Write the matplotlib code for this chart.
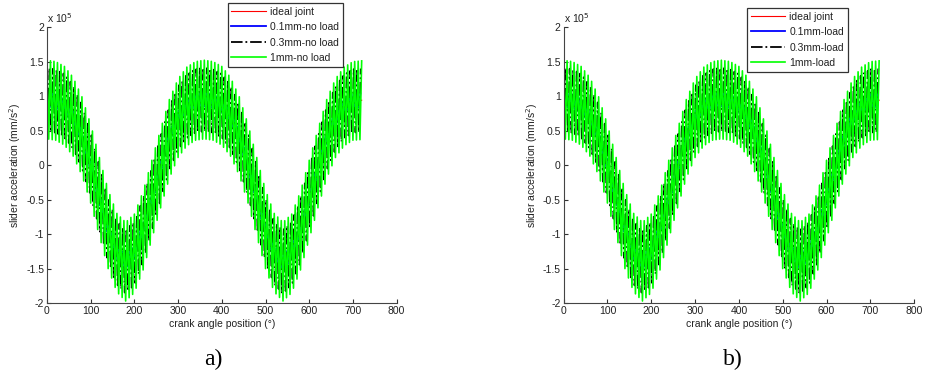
import numpy as np
import matplotlib
matplotlib.use("Agg")
import matplotlib.pyplot as plt

plt.rcParams['font.family'] = ['Liberation Sans', 'DejaVu Sans']

angle_grid = np.arange(0, 721, 20)

# mean slider acceleration (x 1e5 mm/s^2)
center_a = [0.95, 0.93, 0.86, 0.70, 0.42, 0.02, -0.46, -0.93, -1.27, -1.40,
            -1.28, -0.95, -0.50, -0.05, 0.38, 0.68, 0.85, 0.93, 0.95,
            0.93, 0.86, 0.70, 0.42, 0.02, -0.46, -0.93, -1.27, -1.40,
            -1.28, -0.95, -0.50, -0.05, 0.38, 0.68, 0.85, 0.93, 0.94]
center_b = [0.95, 0.93, 0.86, 0.70, 0.42, 0.02, -0.46, -0.93, -1.27, -1.40,
            -1.28, -0.95, -0.50, -0.05, 0.38, 0.68, 0.85, 0.93, 0.95,
            0.93, 0.86, 0.70, 0.42, 0.02, -0.46, -0.93, -1.27, -1.40,
            -1.28, -0.95, -0.50, -0.05, 0.38, 0.68, 0.85, 0.93, 0.94]

# half width of the oscillation band of each trace (x 1e5 mm/s^2)
half_band_a = [0.0, 0.10, 0.46, 0.57]
half_band_b = [0.0, 0.10, 0.46, 0.57]

# phase shift of the oscillation of each trace (deg)
phase = [0.0, 1.0, 2.0, 0.0]
period = 8.0   # deg, one up/down cycle

labels_a = ['ideal joint', '0.1mm-no load', '0.3mm-no load', '1mm-no load']
labels_b = ['ideal joint', '0.1mm-load', '0.3mm-load', '1mm-load']

colors = ['#ff0000', '#0000ff', '#000000', '#00ff00']
styles = ['-', '-', '-.', '-']
widths = [0.8, 1.3, 1.3, 1.2]

yticks = [-2, -1.5, -1, -0.5, 0, 0.5, 1, 1.5, 2]
ytick_labels = ['-2', '-1.5', '-1', '-0.5', '0', '0.5', '1', '1.5', '2']

fs = 7.5


def trace(center, half, ph):
    x = np.arange(ph, 720.0 + 1e-9, period / 2)
    x = np.concatenate([[0.0], x]) if ph > 0 else x
    sign = np.where(np.arange(len(x)) % 2 == 0, 1.0, -1.0)
    y = np.interp(x, angle_grid, center) + sign * half
    return x, y * 1e5


def panel(ax, center, half_band, labels, leg_anchor):
    for i in range(4):
        x, y = trace(center, half_band[i], phase[i])
        ax.plot(x, y, styles[i], color=colors[i], lw=widths[i], label=labels[i])
    ax.set_xlim(0, 800)
    ax.set_ylim(-2e5, 2e5)
    ax.set_xticks(np.arange(0, 801, 100))
    ax.set_yticks(np.array(yticks) * 1e5)
    ax.set_yticklabels(ytick_labels)
    ax.tick_params(direction='in', length=3, labelsize=fs, colors='#333333',
                   labelcolor='#222222', pad=2)
    for s in ['top', 'right']:
        ax.spines[s].set_visible(False)
    for s in ['left', 'bottom']:
        ax.spines[s].set_color('#444444')
        ax.spines[s].set_linewidth(0.8)
    ax.set_xlabel('crank angle position (°)', fontsize=fs, color='#222222', labelpad=2)
    ax.set_ylabel('slider acceleration (mm/s$^2$)', fontsize=fs, color='#222222', labelpad=2)
    ax.text(0.0, 1.015, 'x 10$^5$', transform=ax.transAxes, fontsize=fs, color='#222222')
    leg = ax.legend(loc='upper left', bbox_to_anchor=leg_anchor, fontsize=fs,
                    frameon=True, fancybox=False, edgecolor='black',
                    handlelength=3.3, handletextpad=0.4, borderpad=0.35,
                    labelspacing=0.52, borderaxespad=0)
    leg.get_frame().set_linewidth(0.9)
    for t in leg.get_texts():
        t.set_color('#222222')


fig = plt.figure(figsize=(9.3, 3.71), dpi=100)
ax1 = fig.add_axes([0.0505, 0.183, 0.376, 0.744])
ax2 = fig.add_axes([0.606, 0.183, 0.377, 0.744])

panel(ax1, center_a, half_band_a, labels_a, (0.517, 1.087))
panel(ax2, center_b, half_band_b, labels_b, (0.524, 1.069))

fig.text(0.229, 0.015, 'a)', fontsize=17, family=['Liberation Serif', 'DejaVu Serif'], ha='center')
fig.text(0.788, 0.015, 'b)', fontsize=17, family=['Liberation Serif', 'DejaVu Serif'], ha='center')

fig.savefig('out.png', dpi=100)
